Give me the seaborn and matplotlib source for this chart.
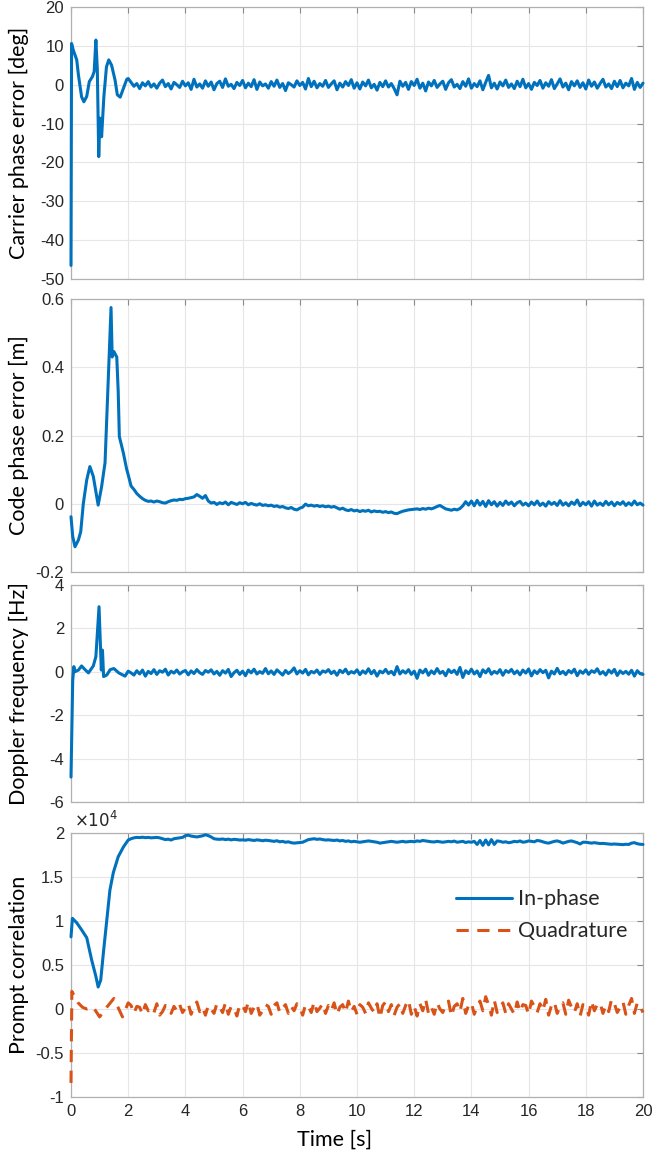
import numpy as np
import matplotlib
matplotlib.use("Agg")
import matplotlib.pyplot as plt
import matplotlib.ticker as mticker
import seaborn as sns

# ---- data ----
# early transients (t < 2.1 s), typed point by point
carrier_t0 = [0, 0.02, 0.08, 0.2, 0.26, 0.37, 0.45, 0.55, 0.64, 0.75, 0.81, 0.87, 0.92,
              0.97, 1.01, 1.04, 1.07, 1.15, 1.24, 1.32, 1.42, 1.54, 1.62, 1.72, 1.83, 1.95, 2.0]
carrier_v0 = [-46.5, 10.6, 8.9, 6.4, 2.5, -3.1, -4.4, -3.0, 0.8, 2.1, 3.4, 11.5, 4.0,
              -18.5, -8.6, -9.0, -13.4, -3.0, 4.6, 6.4, 5.0, 1.2, -2.6, -3.2, -1.0, 1.4, 1.6]

code_t0 = [0, 0.06, 0.14, 0.26, 0.34, 0.43, 0.55, 0.66, 0.78, 0.95, 1.07, 1.19, 1.31, 1.40,
           1.44, 1.50, 1.60, 1.65, 1.69, 1.83, 1.95, 2.0]
code_v0 = [-0.038, -0.096, -0.126, -0.106, -0.082, 0.0, 0.07, 0.109, 0.08, -0.004, 0.05, 0.12,
           0.38, 0.575, 0.43, 0.446, 0.43, 0.33, 0.197, 0.149, 0.1, 0.085]

doppler_t0 = [0, 0.06, 0.1, 0.13, 0.26, 0.37, 0.49, 0.61, 0.78, 0.87, 0.98, 1.03, 1.06, 1.1,
              1.14, 1.25, 1.37, 1.5, 1.67, 1.89, 2.0]
doppler_v0 = [-4.85, -0.4, 0.24, 0.0, 0.08, 0.27, 0.1, -0.05, 0.27, 0.7, 3.0, 1.16, 0.08, 1.0,
              -0.22, -0.15, 0.1, 0.15, -0.05, -0.2, 0.03]

inphase_t0 = [0, 0.05, 0.2, 0.37, 0.55, 0.72, 0.87, 0.95, 1.04, 1.13, 1.25, 1.36, 1.48, 1.65, 1.83, 2.0]
inphase_v0 = [0.82, 1.03, 0.98, 0.9, 0.81, 0.56, 0.37, 0.25, 0.33, 0.63, 1.01, 1.35, 1.55, 1.73, 1.84, 1.92]

quad_t0 = [0, 0.03, 0.25, 0.4, 0.55, 0.78, 1.0, 1.2, 1.5, 1.8, 2.0]
quad_v0 = [-0.84, 0.2, 0.07, 0.02, 0.0, 0.02, -0.09, 0.0, 0.12, -0.09, 0.07]

# steady part, one value every 0.1 s from 2.1 s to 20.0 s
t_steady = np.round(np.arange(2.1, 20.05, 0.1), 2)

carrier_v1 = [0.6, -0.4, 0.3, -1.0, 0.5, -0.3, 0.8, -0.6, 0.2,
              -0.9, 0.4, 1.2, -0.5, 0.3, -1.1, 0.6, 0.0, -0.7, 0.9,
              -0.3, 0.5, -1.2, 1.4, -0.6, 0.2, -0.9, 1.0, -0.4, 0.7,
              -1.3, 0.3, 0.9, -0.7, 1.5, -0.4, 0.1, -1.0, 0.6, -0.2,
              1.1, -0.8, 0.4, -0.5, 1.3, -1.2, 0.7, -0.3, 0.2, -0.9,
              0.8, -0.4, 1.2, -0.7, 0.3, -1.5, 0.5, 0.0, -0.6, 1.0,
              -0.2, 0.6, -1.1, 1.6, -0.5, 0.9, -0.8, 0.3, -0.4, 1.1,
              -0.7, 0.2, 1.0, -1.3, 0.4, -0.6, 0.8, -0.2, 1.3, -0.9,
              0.5, -1.1, 0.7, -0.3, 1.2, -0.8, 0.1, -1.4, 0.6, -0.5,
              1.0, -0.6, 0.3, -1.0, -2.6, 0.9, -0.4, 0.6, -1.2, 0.8,
              -0.2, 1.4, -0.9, 0.4, -1.6, 0.7, -0.3, 1.1, -0.7, 0.2,
              0.9, -1.2, 0.5, 1.3, -0.6, 0.1, -1.0, 0.8, -0.4, 1.5,
              -0.9, 0.3, -0.5, 1.0, -1.3, 0.6, 2.4, -0.8, 0.4, -1.1,
              0.7, -0.3, 1.2, -0.7, 0.2, -1.0, 0.9, -0.5, 1.4, -0.8,
              0.3, -1.2, 0.6, -0.2, 1.1, -0.9, 0.5, -0.4, 1.3, -1.0,
              0.2, 1.5, -0.6, 0.4, -1.3, 0.8, -0.3, 1.0, -0.7, 0.5,
              -1.1, 1.2, -0.4, 0.7, -0.9, 0.3, 1.4, -0.6, 0.2, -1.0,
              0.9, -0.5, 1.1, -0.8, 0.4, -0.3, 1.6, -1.2, 0.6, -0.7,
              0.4]

code_v1 = [0.052, 0.042, 0.030, 0.022, 0.015, 0.010, 0.007, 0.008, 0.005,
           0.008, 0.006, 0.003, 0.002, 0.006, 0.009, 0.011, 0.010, 0.013, 0.012,
           0.015, 0.016, 0.018, 0.020, 0.027, 0.022, 0.016, 0.024, 0.008, 0.002,
           0.004, -0.002, 0.003, 0.000, 0.005, -0.003, 0.004, 0.001, -0.002, 0.003,
           0.000, 0.004, -0.003, 0.001, -0.002, -0.004, 0.000, -0.005, -0.003, -0.006,
           -0.004, -0.008, -0.006, -0.010, -0.008, -0.012, -0.014, -0.011, -0.016, -0.018,
           -0.013, -0.010, -0.001, -0.006, -0.004, -0.007, -0.005, -0.008, -0.006, -0.009,
           -0.007, -0.010, -0.008, -0.012, -0.016, -0.013, -0.018, -0.020, -0.017, -0.021,
           -0.019, -0.023, -0.020, -0.022, -0.019, -0.024, -0.021, -0.023, -0.022, -0.025,
           -0.023, -0.026, -0.024, -0.028, -0.029, -0.025, -0.022, -0.020, -0.018, -0.017,
           -0.016, -0.015, -0.017, -0.014, -0.016, -0.013, -0.015, -0.012, -0.008, -0.005,
           -0.010, -0.015, -0.017, -0.019, -0.016, -0.018, -0.014, -0.006, 0.006, -0.004,
           0.008, -0.006, 0.010, -0.004, 0.007, -0.008, 0.009, -0.003, 0.006, -0.007,
           0.004, -0.005, 0.008, -0.002, 0.005, -0.006, 0.003, 0.007, -0.004, 0.002,
           -0.006, 0.005, -0.003, 0.008, -0.005, 0.002, -0.007, 0.006, -0.002, 0.004,
           -0.005, 0.009, -0.004, 0.003, -0.006, 0.005, -0.002, 0.011, -0.006, 0.004,
           -0.003, 0.006, -0.007, 0.008, -0.004, 0.002, -0.005, 0.007, -0.003, 0.005,
           -0.006, 0.004, -0.002, 0.006, -0.005, 0.003, -0.004, 0.008, -0.003, 0.002,
           -0.004]

doppler_v1 = [-0.05, -0.15, 0.05, -0.10, 0.08, -0.20, 0.02, -0.08, 0.10,
              -0.12, 0.05, -0.02, 0.12, -0.15, 0.03, -0.06, 0.08, -0.10, 0.00,
              0.06, -0.14, 0.04, -0.08, 0.10, -0.04, -0.12, 0.06, -0.02, 0.09,
              -0.10, 0.02, -0.16, 0.05, -0.06, 0.11, -0.22, -0.04, 0.07, -0.12,
              0.03, -0.18, 0.08, -0.05, 0.12, -0.10, 0.01, -0.07, 0.15, -0.09,
              0.04, -0.12, 0.09, -0.03, -0.15, 0.06, -0.08, 0.02, 0.18, -0.10,
              0.05, -0.06, 0.11, -0.14, 0.02, -0.05, 0.08, -0.12, 0.04, -0.02,
              0.10, -0.08, 0.03, -0.16, 0.07, -0.04, 0.12, -0.10, 0.01, -0.06,
              0.09, -0.13, 0.04, -0.07, 0.14, -0.09, 0.06, -0.20, 0.03, -0.05,
              0.11, -0.08, 0.02, -0.14, 0.24, -0.10, 0.05, -0.06, 0.10, -0.12,
              0.03, -0.30, 0.08, -0.05, 0.12, -0.16, 0.04, -0.09, 0.15, -0.07,
              0.02, -0.18, 0.10, -0.04, 0.07, -0.12, 0.20, -0.26, 0.05, -0.08,
              0.12, -0.10, 0.04, -0.22, 0.09, -0.05, 0.14, -0.11, 0.02, -0.07,
              0.10, -0.16, 0.06, -0.03, 0.11, -0.09, 0.04, -0.14, 0.08, -0.06,
              0.13, -0.19, 0.05, -0.08, 0.10, -0.04, 0.07, -0.28, 0.03, -0.10,
              0.16, -0.09, 0.02, -0.13, 0.06, -0.05, 0.12, -0.18, 0.04, -0.07,
              0.09, -0.12, 0.05, -0.03, 0.14, -0.10, 0.01, -0.15, 0.08, -0.06,
              0.11, -0.17, 0.04, -0.08, 0.02, -0.11, 0.07, -0.20, 0.05, -0.09,
              -0.12]

# prompt correlation, in units of 1e4
inphase_v1 = [1.935, 1.945, 1.95, 1.948, 1.952, 1.947, 1.95, 1.945, 1.948,
              1.95, 1.945, 1.935, 1.925, 1.93, 1.92, 1.935, 1.94, 1.945, 1.95,
              1.97, 1.975, 1.965, 1.96, 1.955, 1.962, 1.968, 1.98, 1.97, 1.955,
              1.935, 1.93, 1.928, 1.932, 1.925, 1.93, 1.922, 1.928, 1.925, 1.92,
              1.922, 1.918, 1.925, 1.92, 1.915, 1.922, 1.918, 1.912, 1.918, 1.915,
              1.91, 1.905, 1.912, 1.90, 1.905, 1.895, 1.90, 1.89, 1.885, 1.888,
              1.89, 1.895, 1.91, 1.925, 1.93, 1.935, 1.928, 1.932, 1.925, 1.92,
              1.922, 1.918, 1.915, 1.92, 1.91, 1.915, 1.905, 1.91, 1.90, 1.905,
              1.90, 1.895, 1.90, 1.905, 1.91, 1.905, 1.90, 1.895, 1.885, 1.89,
              1.895, 1.90, 1.905, 1.90, 1.895, 1.90, 1.905, 1.898, 1.902, 1.905,
              1.90, 1.91, 1.905, 1.915, 1.91, 1.905, 1.90, 1.898, 1.905, 1.90,
              1.895, 1.90, 1.905, 1.90, 1.908, 1.895, 1.90, 1.905, 1.892, 1.90,
              1.895, 1.905, 1.87, 1.915, 1.86, 1.92, 1.865, 1.925, 1.87, 1.91,
              1.905, 1.895, 1.90, 1.89, 1.895, 1.905, 1.90, 1.91, 1.895, 1.90,
              1.91, 1.905, 1.90, 1.915, 1.91, 1.90, 1.89, 1.885, 1.895, 1.905,
              1.91, 1.90, 1.885, 1.895, 1.905, 1.91, 1.90, 1.89, 1.875, 1.895,
              1.895, 1.89, 1.885, 1.89, 1.885, 1.88, 1.882, 1.878, 1.875, 1.872,
              1.875, 1.872, 1.87, 1.868, 1.872, 1.87, 1.885, 1.89, 1.878, 1.872,
              1.87]

quad_v1 = [0.04, -0.05, 0.03, 0.02, -0.06, 0.05, -0.02, 0.01, -0.04,
           0.06, -0.07, -0.03, 0.04, 0.02, -0.05, 0.03, -0.02, 0.05, -0.04,
           0.01, 0.06, -0.06, 0.03, 0.08, -0.03, 0.02, -0.07, 0.04, 0.00,
           -0.05, 0.06, 0.02, -0.04, 0.07, -0.06, 0.03, 0.01, -0.08, 0.05,
           0.04, -0.03, 0.08, -0.05, 0.02, 0.06, -0.07, -0.02, 0.05, 0.03,
           -0.06, 0.04, 0.07, -0.04, 0.01, 0.05, -0.05, 0.03, -0.02, 0.06,
           0.02, -0.07, 0.05, 0.03, -0.04, 0.08, -0.03, 0.01, 0.06, -0.05,
           0.04, -0.02, 0.07, -0.06, 0.02, 0.05, -0.04, 0.09, -0.03, 0.03,
           -0.06, 0.05, 0.02, -0.05, 0.07, 0.01, -0.04, 0.06, -0.10, 0.04,
           0.08, -0.03, 0.05, -0.07, 0.02, 0.06, -0.05, 0.04, 0.10, -0.06,
           0.03, -0.08, 0.06, -0.02, 0.11, -0.05, 0.02, -0.06, 0.07, 0.00,
           -0.04, 0.05, 0.09, -0.08, 0.03, 0.06, -0.03, 0.12, -0.05, 0.04,
           0.07, -0.06, 0.03, 0.09, -0.02, 0.14, 0.05, -0.07, 0.10, -0.04,
           0.02, 0.07, -0.05, 0.06, 0.00, -0.06, 0.08, -0.03, 0.05, 0.04,
           -0.06, 0.09, 0.03, -0.04, 0.06, -0.02, 0.11, -0.07, 0.04, 0.08,
           -0.05, 0.03, 0.07, -0.06, 0.10, 0.02, -0.04, 0.06, -0.08, 0.05,
           0.03, -0.07, 0.09, -0.02, 0.05, 0.07, -0.05, 0.04, -0.03, 0.11,
           0.06, -0.04, 0.02, 0.08, -0.06, 0.04, 0.12, -0.05, 0.07, 0.03,
           -0.04]

CORR_SCALE = 1e4

ylabels = ["Carrier phase error [deg]", "Code phase error [m]",
           "Doppler frequency [Hz]", "Prompt correlation"]
ylims = [(-50, 20), (-0.2, 0.6), (-6, 4), (-1e4, 2e4)]
yticks = [np.arange(-50, 21, 10), np.arange(-0.2, 0.61, 0.2),
          np.arange(-6, 5, 2), np.arange(-1e4, 2.01e4, 0.5e4)]
xticks = np.arange(0, 21, 2)

BLUE = "#0072BD"
ORANGE = "#D95319"
TICK_COLOR = "#262626"
LABEL_FONT = ["Lato", "DejaVu Sans"]
TICK_FONT = ["Liberation Sans", "DejaVu Sans"]
LW = 2.2

sns.set_theme(style="whitegrid")
plt.rcParams["font.family"] = TICK_FONT
plt.rcParams["axes.unicode_minus"] = False

fig = plt.figure(figsize=(6.53, 11.56), dpi=100)
W, H = 653, 1156
left, right = 71, 643
boxes = [(7, 279), (299, 572), (585, 802), (833, 1097)]
axes = []
for top, bot in boxes:
    axes.append(fig.add_axes([left / W, 1 - bot / H, (right - left) / W, (bot - top) / H]))


def join(t0, v0, v1, scale=1.0):
    t = np.concatenate([np.array(t0), t_steady])
    v = np.concatenate([np.array(v0), np.array(v1)]) * scale
    return t, v


series = [join(carrier_t0, carrier_v0, carrier_v1),
          join(code_t0, code_v0, code_v1),
          join(doppler_t0, doppler_v0, doppler_v1)]

for ax, (t, v) in zip(axes[:3], series):
    sns.lineplot(x=t, y=v, ax=ax, color=BLUE, linewidth=LW, estimator=None, sort=False)

t_i, v_i = join(inphase_t0, inphase_v0, inphase_v1, CORR_SCALE)
t_q, v_q = join(quad_t0, quad_v0, quad_v1, CORR_SCALE)
sns.lineplot(x=t_i, y=v_i, ax=axes[3], color=BLUE, linewidth=LW, estimator=None,
             sort=False, label="In-phase")
sns.lineplot(x=t_q, y=v_q, ax=axes[3], color=ORANGE, linewidth=LW, estimator=None,
             sort=False, label="Quadrature")
axes[3].lines[-1].set_dashes((4, 2.8))

for i, ax in enumerate(axes):
    ax.set_facecolor("white")
    ax.set_xlim(0, 20)
    ax.set_ylim(*ylims[i])
    ax.set_xticks(xticks)
    ax.set_yticks(yticks[i])
    ax.grid(True, color="#e6e6e6", linewidth=0.8)
    for ln in ax.lines:
        ln.set_clip_on(False)
        ln.set_zorder(3)
    for sp in ax.spines.values():
        sp.set_color("#b0b0b0")
        sp.set_linewidth(0.9)
    ax.tick_params(direction="in", length=4, width=0.8, color="#8a8a8a",
                   top=True, right=True, labelsize=12, labelcolor=TICK_COLOR, pad=5)
    ax.set_ylabel(ylabels[i], fontsize=15.5, family=LABEL_FONT, color="black")
    ax.yaxis.set_label_coords(-0.074, 0.5)
    if i < 3:
        ax.set_xticklabels([])
    else:
        ax.set_xticklabels([f"{x:d}" for x in xticks])

axes[1].yaxis.set_major_formatter(mticker.FuncFormatter(lambda v, p: f"{v:g}" if abs(v) > 1e-9 else "0"))
axes[3].yaxis.set_major_formatter(mticker.FuncFormatter(lambda v, p: f"{v / CORR_SCALE:g}"))
axes[3].text(0.005, 1.01, r"$\times10^4$", transform=axes[3].transAxes, fontsize=12,
             color=TICK_COLOR, ha="left", va="bottom", family=TICK_FONT)
axes[3].set_xlabel("Time [s]", fontsize=15.5, family=LABEL_FONT, color="black")
axes[3].xaxis.set_label_coords((335 - left) / (right - left), -(1140 - 1097) / (1097 - 833))
axes[3].xaxis.label.set_va("center")

leg = axes[3].legend(loc="upper left", bbox_to_anchor=(0.64, 0.86), frameon=False,
                     prop={"family": LABEL_FONT, "size": 15.5}, handlelength=2.6,
                     handletextpad=0.25, labelspacing=0.55)

fig.savefig("out.png", dpi=100)
